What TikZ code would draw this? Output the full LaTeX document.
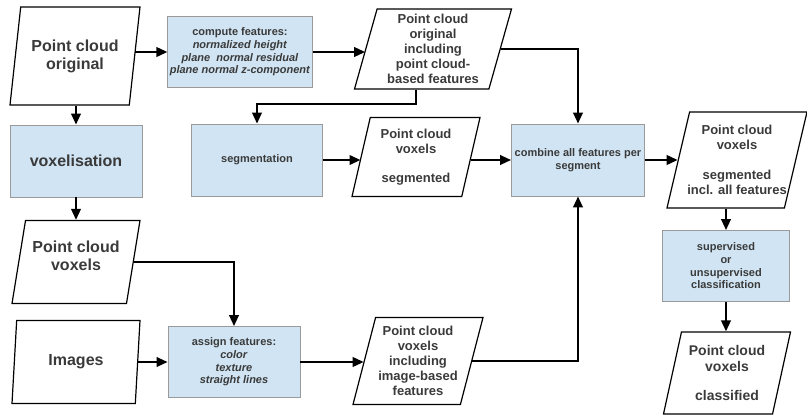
\documentclass[tikz,border=0pt]{standalone}
\usepackage{fontspec}
\setmainfont{Liberation Sans}
\usetikzlibrary{arrows.meta, positioning, shapes.geometric}
\definecolor{flowInk}{HTML}{3A3A3A}
\definecolor{flowFill}{HTML}{D0E4F3}
\definecolor{flowEdge}{HTML}{9A9A9A}

\begin{document}
\begin{tikzpicture}[x=1pt, y=-1pt,
  box/.style={draw=flowEdge, line width=0.8pt, fill=flowFill, text=flowInk, inner sep=2pt,
              minimum width=132pt, minimum height=72pt, align=center,
              font=\bfseries\fontsize{11}{12.7}\selectfont},
  pc/.style={trapezium, trapezium left angle=72, trapezium right angle=108, trapezium stretches body,
             draw=black, line width=1.2pt, inner xsep=-60pt, inner ysep=0pt,
             minimum width=130pt, minimum height=83pt, align=center, text=flowInk,
             font=\bfseries\fontsize{13}{15}\selectfont},
  big/.style={font=\bfseries\fontsize{16}{18}\selectfont},
  a/.style={-{Triangle[length=11pt, width=9.5pt]}, line width=2.2pt}
]
\useasboundingbox (0,0) rectangle (807,416);

% left column
\node[pc, big, minimum height=98pt] (pco) at (75,56) {Point cloud\\original};
\node[box, big] (vox) at (76,161) {voxelisation};
\node[pc, big, minimum width=128pt, text depth=12pt] (pcv) at (76,262) {Point cloud\\voxels};
\node[pc, big, minimum width=128pt] (img) at (76,362) {Images};

% middle
\node[box, minimum width=144pt, minimum height=71pt] (comp) at (240,52)
  {compute features:\\\textit{normalized height}\\\textit{plane\ \ normal residual}\\\textit{plane normal z-component}};
\node[pc, minimum width=157pt, minimum height=80pt] (pcf) at (433,49)
  {Point cloud\\original\\including\\point cloud-\\based features};
\node[box, minimum width=131pt] (seg) at (257,160) {segmentation};
\node[pc, minimum width=128pt, minimum height=79pt] (pcs) at (416,157)
  {Point cloud\\voxels\\[14pt]segmented};
\node[box, minimum height=71pt] (asg) at (234,362)
  {assign features:\\\textit{color}\\\textit{texture}\\\textit{straight lines}};
\node[pc, minimum height=87pt] (pci) at (418,361)
  {Point cloud\\voxels\\including\\image-based\\features};

% right
\node[box, minimum width=133pt] (comb) at (578,160) {combine all features per\\segment};
\node[pc, minimum width=140pt, minimum height=96pt] (pca) at (737,160)
  {Point cloud\\voxels\\[15pt]segmented\\incl. all features};
\node[box, minimum width=127pt, minimum height=71pt] (sup) at (726,266)
  {supervised\\or\\unsupervised\\classification};
\node[pc, minimum width=127pt, minimum height=82pt, font=\bfseries\fontsize{14}{16}\selectfont] (pccl) at (727,373)
  {Point cloud\\voxels\\[13pt]classified};

% connectors
\draw[a] (pco.east |- comp.west) -- (comp.west);
\draw[a] (comp.east) -- (comp.east -| pcf.west);
\draw[a] (pcf.east) -| (comb.north);
\draw[a] ([xshift=-17pt]pcf.south) -- ++(0,14) -| (seg.north);
\draw[a] (seg.east) -- (seg.east -| pcs.west);
\draw[a] (pcs.east |- comb.west) -- (comb.west);
\draw[a] (comb.east) -- (comb.east -| pca.west);
\draw[a] (pca.south -| sup.north) -- (sup.north);
\draw[a] (sup.south) -- (sup.south |- pccl.north);
\draw[a] (pco.south -| vox.north) -- (vox.north);
\draw[a] (vox.south) -- (vox.south |- pcv.north);
\draw[a] (pcv.east) -| (asg.north);
\draw[a] (img.east |- asg.west) -- (asg.west);
\draw[a] (asg.east) -- (asg.east -| pci.west);
\draw[a] (pci.east) -| (comb.south);
\end{tikzpicture}
\end{document}
